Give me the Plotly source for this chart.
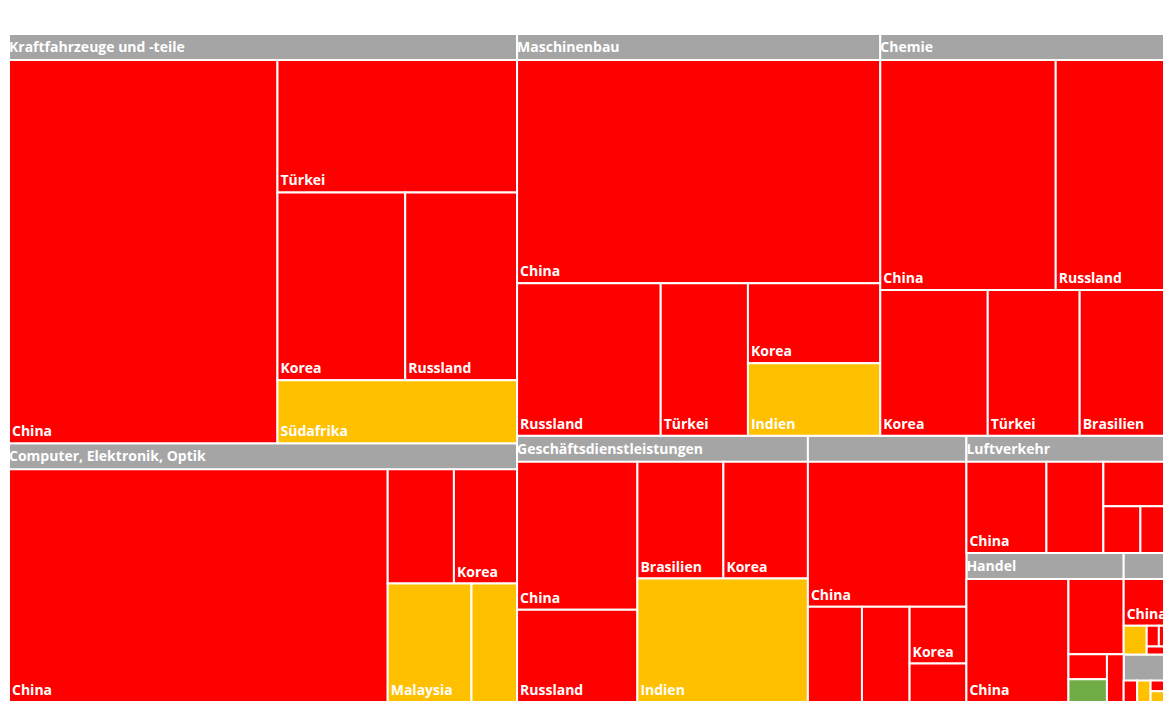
import plotly.graph_objects as go

# ---- data -------------------------------------------------------------
sectors = [
    "Kraftfahrzeuge und -teile", "Computer, Elektronik, Optik", "Maschinenbau",
    "Chemie", "Geschäftsdienstleistungen", "Elektrische Ausrüstung",
    "Luftverkehr", "Handel", "Verkehr", "Kokerei und Mineralölverarbeitung",
]

leaf_sector = (
    ["Kraftfahrzeuge und -teile"] * 5 + ["Computer, Elektronik, Optik"] * 5 +
    ["Maschinenbau"] * 5 + ["Chemie"] * 5 +
    ["Geschäftsdienstleistungen"] * 5 + ["Elektrische Ausrüstung"] * 5 +
    ["Luftverkehr"] * 5 + ["Handel"] * 5 + ["Verkehr"] * 5 +
    ["Kokerei und Mineralölverarbeitung"] * 5
)
leaf_country = [
    "China", "Türkei", "Korea", "Russland", "Südafrika",
    "China", "Russland", "Korea", "Malaysia", "Philippinen",
    "China", "Russland", "Türkei", "Korea", "Indien",
    "China", "Russland", "Korea", "Türkei", "Brasilien",
    "China", "Russland", "Brasilien", "Korea", "Indien",
    "China", "Russland", "Türkei", "Korea", "Mexiko",
    "China", "Hong Kong", "Russland", "Türkei", "Brasilien",
    "China", "Hong Kong", "Korea", "Thailand", "Russland",
    "China", "Taiwan", "Russland", "Korea", "Brasilien",
    "China", "Indien", "Russland", "Indonesien", "Thailand",
]
leaf_value = [
    113.5, 35.0, 26.5, 23.2, 16.6,
    101.3, 8.7, 8.3, 11.4, 6.2,
    89.6, 24.2, 14.7, 11.7, 10.6,
    44.6, 29.3, 17.3, 14.8, 14.7,
    20.4, 12.7, 11.5, 11.3, 24.1,
    26.3, 5.9, 5.2, 3.7, 2.5,
    9.7, 6.9, 4.0, 2.3, 1.9,
    15.7, 5.2, 1.2, 1.1, 1.0,
    3.07, 0.92, 0.35, 0.35, 0.27,
    0.66, 0.66, 0.50, 0.35, 0.15,
]
leaf_rating = [
    "rot", "rot", "rot", "rot", "gelb",
    "rot", "rot", "rot", "gelb", "gelb",
    "rot", "rot", "rot", "rot", "gelb",
    "rot", "rot", "rot", "rot", "rot",
    "rot", "rot", "rot", "rot", "gelb",
    "rot", "rot", "rot", "rot", "rot",
    "rot", "rot", "rot", "rot", "rot",
    "rot", "rot", "rot", "grün", "rot",
    "rot", "gelb", "rot", "rot", "rot",
    "rot", "gelb", "rot", "gelb", "grün",
]

# ---- styling ----------------------------------------------------------
rating_colors = {"rot": "#FF0000", "gelb": "#FFC000", "grün": "#70AD47"}
header_color = "#A5A5A5"
FONT = "Open Sans"
FSIZE = 14
HEADER = 26

ids = list(sectors) + [f"{s}/{c}" for s, c in zip(leaf_sector, leaf_country)]
labels = list(sectors) + list(leaf_country)
parents = [""] * len(sectors) + list(leaf_sector)
values = [0] * len(sectors) + list(leaf_value)
colors = [header_color] * len(sectors) + [rating_colors[r] for r in leaf_rating]

header_text = list(sectors) + [""] * len(leaf_country)
leaf_text = [""] * len(sectors) + list(leaf_country)

common = dict(
    ids=ids, labels=labels, parents=parents, values=values,
    branchvalues="remainder", sort=False,
    tiling=dict(packing="squarify", pad=0),
    pathbar=dict(visible=False),
    textinfo="text",
    domain=dict(x=[0, 1], y=[0, 1]),
    root=dict(color="rgba(0,0,0,0)"),
)

fig = go.Figure()
# boxes + sector banners (labels at the top)
fig.add_trace(go.Treemap(
    **common,
    text=header_text,
    textposition="top left",
    marker=dict(colors=colors, line=dict(color="white", width=2),
                pad=dict(t=HEADER, l=0, r=0, b=0)),
    textfont=dict(family=FONT, size=FSIZE, color="white", weight="bold"),
    hoverinfo="label+value",
))
# country labels (bottom left of every box)
fig.add_trace(go.Treemap(
    **common,
    text=leaf_text,
    textposition="bottom left",
    marker=dict(colors=["rgba(0,0,0,0)"] * len(ids), line=dict(width=0),
                pad=dict(t=HEADER, l=0, r=0, b=0)),
    textfont=dict(family=FONT, size=FSIZE, color="white", weight="bold"),
    hoverinfo="skip",
))

fig.update_layout(
    width=1163, height=694,
    margin=dict(l=1, r=0, t=0, b=0),
    paper_bgcolor="white",
    uniformtext=dict(minsize=FSIZE, mode="hide"),
    showlegend=False,
)

fig.write_html("out.html")
